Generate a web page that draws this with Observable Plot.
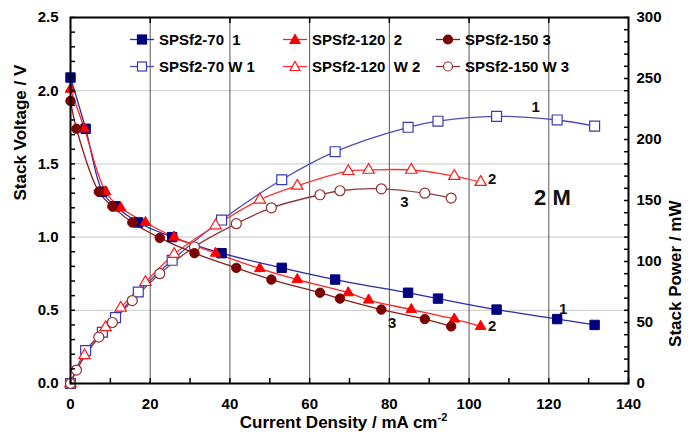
<!DOCTYPE html>
<html><head><meta charset="utf-8">
<script src="https://cdn.jsdelivr.net/npm/d3@7"></script>
<script src="https://cdn.jsdelivr.net/npm/@observablehq/plot@0.6"></script>
<style>
body{margin:0;background:#fff;}
#wrap{position:relative;width:694px;height:441px;font-family:"Liberation Sans",Arial,sans-serif;}
#legend{position:absolute;left:130px;top:26px;display:grid;grid-template-columns:153px 153px 153px;grid-auto-rows:27px;font-weight:bold;font-size:15px;color:#000;}
.item{display:flex;align-items:center;white-space:pre;}
.item svg{margin-right:5px;display:block;}
</style></head><body><div id="wrap"><div id="legend"></div></div>
<script>
// ---- data ----
const current1 = [0, 3.8, 8.0, 11.3, 17.0, 25.5, 37.9, 53.0, 66.4, 84.7, 92.2, 106.9, 122.1, 131.5];
const voltage1 = [2.09, 1.74, 1.31, 1.21, 1.10, 1.00, 0.89, 0.79, 0.71, 0.62, 0.58, 0.505, 0.44, 0.40];
const power1   = [0, 27, 42, 54, 75, 101, 134, 167, 190, 210, 215, 219, 216, 211];

const current2 = [0, 3.5, 8.8, 12.6, 18.8, 26.0, 36.4, 47.5, 56.9, 69.7, 74.8, 85.5, 96.3, 102.9];
const voltage2 = [2.01, 1.74, 1.31, 1.20, 1.10, 1.00, 0.89, 0.785, 0.71, 0.62, 0.57, 0.505, 0.44, 0.39];
const power2   = [0, 23, 46, 62, 83, 106, 129.5, 150.6, 162, 174, 175, 175, 170, 165];

const current3 = [0, 1.5, 7.1, 10.5, 15.5, 22.4, 31.1, 41.6, 50.4, 62.6, 67.6, 78.0, 88.9, 95.5];
const voltage3 = [1.93, 1.74, 1.31, 1.21, 1.10, 0.995, 0.89, 0.79, 0.71, 0.62, 0.58, 0.505, 0.44, 0.39];
const power3   = [0, 11, 38, 50, 68, 90, 112, 131, 144, 154.7, 158, 159.6, 156, 152];

const legendV = ["SPSf2-70  1", "SPSf2-120  2", "SPSf2-150 3"];
const legendP = ["SPSf2-70 W 1", "SPSf2-120  W 2", "SPSf2-150 W 3"];

const xTicks = [0, 20, 40, 60, 80, 100, 120, 140];
const xMinor = d3.range(0, 141, 10);
const vTicks = [0, 0.5, 1.0, 1.5, 2.0, 2.5];
const vMinor = d3.range(0, 26).map(i => i / 10);
const pTicks = [0, 50, 100, 150, 200, 250, 300];
const pMinor = d3.range(0, 301, 10);
const vGrid = [0.5, 1.0, 1.5, 2.0];
const xGrid = [20, 40, 60, 80, 100, 120];

// annotations (data units: current, voltage-scale)
const notes = [
  {x: 116.7, y: 1.89, t: "1"}, {x: 105.8, y: 1.393, t: "2"}, {x: 83.8, y: 1.236, t: "3"},
  {x: 123.6, y: 0.505, t: "1"}, {x: 105.8, y: 0.39, t: "2"}, {x: 80.7, y: 0.41, t: "3"}
];
const bigNote = [{x: 120.9, y: 1.27, t: "2 M"}];

// ---- styling per series ----
const PMAX = 300, VMAX = 2.5, k = PMAX / VMAX;
const series = [
  {I: current1, V: voltage1, P: power1, symbol: "square", r: 5.3, mark: "#000080", vLine: "#2a2aa6", pLine: "#4d4db5", open: "#3a3aad"},
  {I: current2, V: voltage2, P: power2, symbol: "triangle", r: 3.9, mark: "#ff0000", vLine: "#ff2222", pLine: "#ff3333", open: "#ff1a1a"},
  {I: current3, V: voltage3, P: power3, symbol: "circle", r: 4.7, mark: "#7d0000", vLine: "#8a1c1c", pLine: "#8e3b3b", open: "#963030"}
];

const marks = [
  Plot.gridY(vGrid, {stroke: "#c9c9c9", strokeOpacity: 1, strokeWidth: 1}),
  Plot.gridX(xGrid, {stroke: "#555", strokeOpacity: 1, strokeWidth: 1})
];
for (const s of series) {
  const vRows = s.I.map((x, i) => ({x, y: s.V[i]}));
  const pRows = s.I.map((x, i) => ({x, y: s.P[i] / k}));
  marks.push(Plot.line(pRows, {x: "x", y: "y", stroke: s.pLine, strokeWidth: 1.3, curve: "catmull-rom"}));
  marks.push(Plot.line(vRows, {x: "x", y: "y", stroke: s.vLine, strokeWidth: 1.3, curve: "catmull-rom"}));
}
for (const s of series) {
  const vRows = s.I.map((x, i) => ({x, y: s.V[i]}));
  const pRows = s.I.map((x, i) => ({x, y: s.P[i] / k}));
  marks.push(Plot.dot(pRows, {x: "x", y: "y", symbol: s.symbol, r: s.r + 0.3, fill: "white", stroke: s.open, strokeWidth: 1.2}));
  marks.push(Plot.dot(vRows, {x: "x", y: "y", symbol: s.symbol, r: s.r, fill: s.mark, stroke: s.mark, strokeWidth: 1}));
}
marks.push(
  Plot.text(notes, {x: "x", y: "y", text: "t", fontSize: 15, fontWeight: "bold", fill: "#111"}),
  Plot.text(bigNote, {x: "x", y: "y", text: "t", fontSize: 22, fontWeight: "bold", fill: "#111"}),
  // tick labels
  Plot.axisX(xTicks, {anchor: "bottom", tickSize: 0, tickPadding: 15, fontSize: 15, fontWeight: "bold", label: null}),
  Plot.axisY(vTicks, {anchor: "left", tickSize: 0, tickPadding: 12, tickFormat: d3.format(".1f"), fontSize: 15, fontWeight: "bold", label: null}),
  Plot.axisY(pTicks.map(p => p / k), {anchor: "right", tickSize: 0, tickPadding: 8, tickFormat: d => String(Math.round(d * k)), fontSize: 15, fontWeight: "bold", label: null}),
  // inward tick marks
  Plot.axisX(xMinor, {anchor: "bottom", tickSize: 5, dy: -5, tickFormat: () => "", label: null, strokeWidth: 1.5}),
  Plot.axisX(xGrid, {anchor: "top", tickSize: 5, dy: 5, tickFormat: () => "", label: null, strokeWidth: 1.5}),
  Plot.axisY(vMinor, {anchor: "left", tickSize: 5, dx: 5, tickFormat: () => "", label: null, strokeWidth: 1.5}),
  Plot.axisY(pMinor.map(p => p / k), {anchor: "right", tickSize: 5, dx: -5, tickFormat: () => "", label: null, strokeWidth: 1.5}),
  Plot.frame({stroke: "#000", strokeWidth: 2}),
  // axis titles
  Plot.text(["Stack Voltage / V"], {frameAnchor: "left", dx: -50, rotate: -90, fontSize: 17, fontWeight: "bold"}),
  Plot.text(["Stack Power / mW"], {frameAnchor: "right", dx: 47, rotate: -90, fontSize: 17, fontWeight: "bold"}),
  Plot.text(["Current Density / mA cm"], {frameAnchor: "bottom", dy: 44, dx: -6, fontSize: 17, fontWeight: "bold"})
);

const chart = Plot.plot({
  width: 694, height: 441,
  marginLeft: 70, marginRight: 66, marginTop: 17, marginBottom: 58,
  x: {domain: [0, 140], axis: null},
  y: {domain: [0, VMAX], axis: null},
  style: {fontFamily: "'Liberation Sans', Arial, sans-serif", fontWeight: "bold", color: "#000", background: "white"},
  marks
});

// superscript on x title
for (const t of chart.querySelectorAll("text")) {
  if (t.textContent === "Current Density / mA cm") {
    d3.select(t).append("tspan").attr("dy", -7).attr("font-size", 11).text("-2");
  }
}
document.getElementById("wrap").appendChild(chart);

// legend (HTML overlay)
const legend = document.getElementById("legend");
function swatch(s, filled) {
  const c = filled ? s.mark : s.open;
  const line = filled ? s.vLine : s.pLine;
  const fill = filled ? s.mark : "white";
  let shape;
  if (s.symbol === "square") shape = `<rect x="7.5" y="3" width="9" height="9" fill="${fill}" stroke="${c}" stroke-width="1.2"/>`;
  else if (s.symbol === "triangle") shape = `<path d="M12,2.5 L17,11.5 L7,11.5 Z" fill="${fill}" stroke="${c}" stroke-width="1.2"/>`;
  else shape = `<circle cx="12" cy="7.5" r="4.5" fill="${fill}" stroke="${c}" stroke-width="1.2"/>`;
  return `<svg width="24" height="15"><line x1="0" x2="24" y1="7.5" y2="7.5" stroke="${line}" stroke-width="1.3"/>${shape}</svg>`;
}
const items = [
  ...series.map((s, i) => ({s, filled: true, label: legendV[i]})),
  ...series.map((s, i) => ({s, filled: false, label: legendP[i]}))
];
for (const it of items) {
  const d = document.createElement("div");
  d.className = "item";
  d.innerHTML = swatch(it.s, it.filled) + `<span>${it.label}</span>`;
  legend.appendChild(d);
}
</script>
</body></html>
